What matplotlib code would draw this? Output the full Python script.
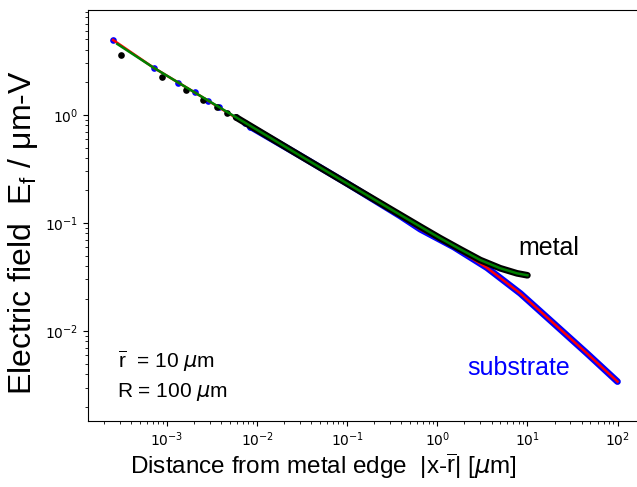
import matplotlib
matplotlib.use("Agg")
import matplotlib.pyplot as plt

plt.rcParams['mathtext.fontset'] = 'custom'
plt.rcParams['mathtext.rm'] = 'Liberation Sans'
plt.rcParams['mathtext.it'] = 'DejaVu Sans:italic'

# --- data ---
substrate_pts_x = [2.52e-4, 7.10e-4, 1.31e-3, 2.02e-3, 2.85e-3, 3.74e-3, 7.26e-3, 8.41e-3]
substrate_pts_y = [4.95, 2.74, 1.99, 1.62, 1.35, 1.18, 0.849, 0.779]

metal_pts_x = [3.11e-4, 8.87e-4, 1.64e-3, 2.51e-3, 3.59e-3, 4.63e-3, 5.83e-3]
metal_pts_y = [3.59, 2.23, 1.70, 1.38, 1.18, 1.05, 0.952]

metal_curve_x = [5.83e-3, 0.0302, 0.100, 0.388, 0.648, 1.08, 1.80, 3.00, 5.00, 7.67, 10.0]
metal_curve_y = [0.952, 0.419, 0.232, 0.119, 0.0925, 0.0722, 0.0571, 0.0454, 0.0381, 0.0342, 0.0328]

substrate_curve_x = [8.41e-3, 0.0302, 0.100, 0.388, 0.648, 1.52, 3.56, 8.34, 19.5, 45.8, 100.0]
substrate_curve_y = [0.779, 0.419, 0.232, 0.116, 0.0875, 0.0600, 0.0385, 0.0223, 0.0118, 0.00621, 0.0034]

metal_fit_x = [2.81e-4, 7.1e-4, 2.02e-3, 5.83e-3, 0.0302, 0.100, 0.388, 0.648, 1.08, 1.80, 3.00, 5.00, 7.67, 10.0]
metal_fit_y = [4.54, 2.74, 1.62, 0.952, 0.419, 0.232, 0.119, 0.0925, 0.0722, 0.0571, 0.0454, 0.0381, 0.0342, 0.0328]

substrate_fit_x = [2.52e-4, 7.1e-4, 2.02e-3, 8.41e-3, 0.0302, 0.100, 0.388, 0.648, 1.52, 3.56, 8.34, 19.5, 45.8, 100.0]
substrate_fit_y = [4.95, 2.74, 1.62, 0.779, 0.419, 0.232, 0.116, 0.0875, 0.0600, 0.0385, 0.0223, 0.0118, 0.00621, 0.0034]

W, H = 637, 487
fig = plt.figure(figsize=(W / 100, H / 100), dpi=100)
ax = fig.add_axes([88 / W, (H - 421) / H, (646 - 88) / W, (421 - 10) / H])

ms = 4.8
band = 4.8
# substrate (blue) markers and dense band
ax.plot(substrate_pts_x, substrate_pts_y, 'o', color='#0000ff', ms=ms, mec='none', zorder=2)
ax.plot(substrate_curve_x, substrate_curve_y, '-', color='#0000ff', lw=band,
        solid_capstyle='round', solid_joinstyle='round', zorder=2)
# substrate fit (red)
ax.plot(substrate_fit_x, substrate_fit_y, '-', color='#ff0000', lw=1.8, zorder=3)
# metal (black) markers and dense band
ax.plot(metal_pts_x, metal_pts_y, 'o', color='black', ms=ms, mec='none', zorder=4)
ax.plot(metal_curve_x, metal_curve_y, '-', color='black', lw=band,
        solid_capstyle='round', solid_joinstyle='round', zorder=4)
# metal fit (green)
ax.plot(metal_fit_x, metal_fit_y, '-', color='#008000', lw=1.8, zorder=5)

ax.set_xscale('log')
ax.set_yscale('log')
ax.set_xlim(10 ** -3.877, 10 ** 2.316)
ax.set_ylim(10 ** -2.833, 10 ** 0.972)

ax.set_xlabel(r'Distance from metal edge  |x-$\overline{\mathrm{r}}$| [$\mu$m]',
              family='Liberation Sans', size=17.5)
ax.xaxis.set_label_coords((323 - 88) / 558, -(466 - 421) / 411)
ax.xaxis.label.set_va('center')
ax.set_ylabel('Electric field  E$_\\mathrm{f}$ / μm-V', family='Liberation Sans', size=23)
ax.yaxis.set_label_coords(-(88 - 23) / 558, (421 - 233) / 411)
ax.yaxis.label.set_va('center')

ax.text(0.771, 0.404, 'metal', transform=ax.transAxes, color='black',
        family='Liberation Sans', size=18, ha='left', va='baseline')
ax.text(0.679, 0.112, 'substrate', transform=ax.transAxes, color='#0000ff',
        family='Liberation Sans', size=18, ha='left', va='baseline')
ax.text(0.054, 0.129, r'$\overline{\mathrm{r}}$  = 10 $\mu$m', transform=ax.transAxes,
        family='Liberation Sans', size=15, ha='left', va='baseline')
ax.text(0.052, 0.058, r'R = 100 $\mu$m', transform=ax.transAxes,
        family='Liberation Sans', size=15, ha='left', va='baseline')

fig.savefig('out.png', dpi=100)
